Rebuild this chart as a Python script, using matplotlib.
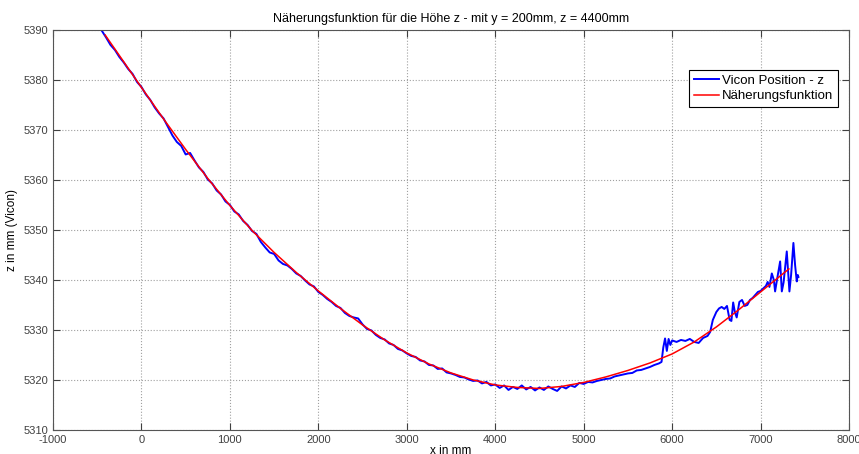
import matplotlib
matplotlib.use('Agg')
import matplotlib.pyplot as plt

# Vicon measurement (x in mm, z in mm)
vicon_x = [-450, -400, -350, -300, -250, -200, -150, -100, -50, 0,
           50, 100, 150, 200, 250, 300, 350, 400, 450, 500,
           550, 600, 650, 700, 750, 800, 850, 900, 950, 1000,
           1050, 1100, 1150, 1200, 1250, 1300, 1350, 1400, 1450, 1500,
           1550, 1600, 1650, 1700, 1750, 1800, 1850, 1900, 1950, 2000,
           2050, 2100, 2150, 2200, 2250, 2300, 2350, 2400, 2450, 2500,
           2550, 2600, 2650, 2700, 2750, 2800, 2850, 2900, 2950, 3000,
           3050, 3100, 3150, 3200, 3250, 3300, 3350, 3400, 3450, 3500,
           3550, 3600, 3650, 3700, 3750, 3800, 3850, 3900, 3950, 4000,
           4050, 4100, 4150, 4200, 4250, 4300, 4350, 4400, 4450, 4500,
           4550, 4600, 4650, 4700, 4750, 4800, 4850, 4900, 4950, 5000,
           5050, 5100, 5150, 5200, 5250, 5300, 5350, 5400, 5450, 5500,
           5550, 5600, 5650, 5700, 5750, 5800, 5850, 5880,
           5900, 5920, 5940, 5960, 5980, 6000, 6050, 6100, 6150, 6200,
           6250, 6300, 6350, 6400, 6430, 6460, 6500, 6530, 6560, 6590,
           6620, 6650, 6670, 6690, 6710, 6730, 6760, 6790, 6820, 6850,
           6880, 6910, 6940, 6970, 7000, 7030, 7060, 7080, 7100, 7127,
           7150, 7164, 7190, 7221, 7240, 7260, 7296, 7326, 7345, 7371,
           7390, 7409, 7420, 7428]
vicon_z = [5389.9, 5388.5, 5387.0, 5386.0, 5384.6, 5383.5, 5382.2, 5381.2, 5379.6, 5378.6,
           5377.1, 5376.0, 5374.5, 5373.3, 5372.3, 5370.6, 5368.9, 5367.6, 5366.8, 5365.1,
           5365.4, 5363.9, 5362.5, 5361.6, 5360.1, 5359.3, 5357.9, 5357.1, 5355.7, 5355.0,
           5353.7, 5353.1, 5351.8, 5351.0, 5349.8, 5349.2, 5347.6, 5346.5, 5345.5, 5345.2,
           5343.9, 5343.2, 5342.9, 5342.2, 5341.3, 5340.8, 5339.9, 5339.1, 5338.7, 5337.6,
           5337.0, 5336.2, 5335.6, 5334.8, 5334.4, 5333.4, 5332.8, 5332.5, 5332.3, 5331.1,
           5330.2, 5329.9, 5329.0, 5328.4, 5328.1, 5327.3, 5327.0, 5326.2, 5325.9, 5325.3,
           5324.8, 5324.6, 5323.9, 5323.7, 5323.0, 5322.9, 5322.2, 5322.3, 5321.5, 5321.3,
           5321.0, 5320.6, 5320.5, 5320.1, 5319.8, 5319.9, 5319.3, 5319.6, 5318.9, 5319.1,
           5318.4, 5318.9, 5318.0, 5318.6, 5318.2, 5318.9, 5318.1, 5318.6, 5317.9, 5318.5,
           5318.0, 5318.7, 5318.2, 5317.8, 5318.7, 5318.3, 5318.9, 5318.6, 5319.4, 5319.2,
           5319.6, 5319.5, 5319.8, 5320.0, 5320.2, 5320.3, 5320.7, 5320.9, 5321.1, 5321.3,
           5321.4, 5321.9, 5322.0, 5322.3, 5322.6, 5323.0, 5323.3, 5323.6,
           5326.5, 5328.3, 5325.8, 5328.2, 5327.0, 5327.9, 5327.6, 5328.0, 5327.8, 5328.2,
           5327.6, 5327.4, 5328.4, 5328.8, 5329.6, 5332.0, 5333.6, 5334.3, 5334.6, 5334.2,
           5334.8, 5332.0, 5331.8, 5335.5, 5333.5, 5332.5, 5335.6, 5336.0, 5334.8, 5335.0,
           5336.0, 5336.4, 5337.0, 5337.6, 5337.8, 5338.3, 5338.8, 5339.6, 5338.6, 5341.3,
           5340.0, 5337.7, 5340.5, 5343.7, 5337.7, 5339.5, 5345.7, 5337.7, 5341.0, 5347.4,
           5343.0, 5339.7, 5341.0, 5340.6]

# approximation function
fit_x = [-411, -250, 0, 250, 500, 750, 1000, 1250, 1500, 1750,
         2000, 2250, 2500, 2750, 3000, 3250, 3500, 3750, 4000, 4250,
         4500, 4750, 5000, 5250, 5500, 5750, 6000, 6250, 6500, 6750,
         7000, 7250, 7320]
fit_z = [5389.0, 5384.9, 5378.5, 5372.2, 5366.1, 5360.3, 5354.9, 5349.9, 5345.5, 5341.5,
         5337.8, 5334.3, 5331.0, 5328.0, 5325.4, 5323.2, 5321.4, 5320.0, 5319.0, 5318.5,
         5318.3, 5318.7, 5319.5, 5320.6, 5321.9, 5323.4, 5325.2, 5327.6, 5330.6, 5334.0,
         5337.6, 5341.2, 5342.2]

plt.rcParams['font.family'] = ['Liberation Sans', 'DejaVu Sans']
plt.rcParams['axes.unicode_minus'] = False

fig = plt.figure(figsize=(8.59, 4.54), dpi=100)
ax = fig.add_axes([0.0617, 0.053, 0.9267, 0.881])

ax.plot(vicon_x, vicon_z, color='blue', linewidth=1.4, label='Vicon Position - z')
ax.plot(fit_x, fit_z, color='red', linewidth=1.1, label='Näherungsfunktion')

ax.set_xlim(-1000, 8000)
ax.set_ylim(5310, 5390)
ax.set_xticks(range(-1000, 8001, 1000))
ax.set_yticks(range(5310, 5391, 10))
ax.tick_params(direction='in', length=5, labelsize=8, colors='#404040',
               top=True, right=True)
for s in ax.spines.values():
    s.set_color('#555555')
    s.set_linewidth(0.8)
ax.grid(True, linestyle=':', color='#a0a0a0', linewidth=0.8)

ax.set_title('Näherungsfunktion für die Höhe z - mit y = 200mm, z = 4400mm', fontsize=9, pad=6)
ax.set_xlabel('x in mm', fontsize=8.5, labelpad=0)
ax.set_ylabel('z in mm (Vicon)', fontsize=8.5, labelpad=4)

leg = ax.legend(loc='upper right', bbox_to_anchor=(0.986, 0.9), fontsize=9.5,
                fancybox=False, framealpha=1, edgecolor='black', borderaxespad=0,
                handlelength=1.9, borderpad=0.35, labelspacing=0.25, handletextpad=0.25)
leg.get_frame().set_linewidth(0.8)

fig.savefig('out.png', dpi=100)
